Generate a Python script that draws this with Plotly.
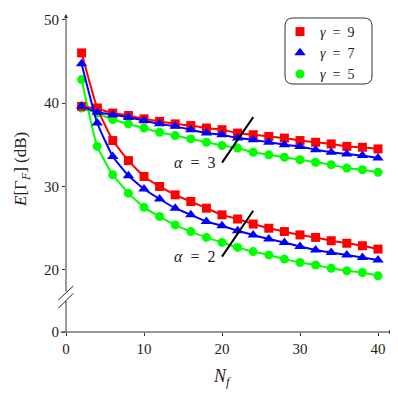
import plotly.graph_objects as go

# number of frames N_f
nf = list(range(2, 41, 2))

# E[Gamma_F] in dB, alpha = 2
g9_a2 = [46.0, 39.4, 35.5, 33.1, 31.2, 30.0, 29.0, 28.2, 27.4, 26.6,
         26.1, 25.5, 25.0, 24.6, 24.2, 23.9, 23.5, 23.2, 22.9, 22.5]
g7_a2 = [44.7, 37.6, 33.6, 31.3, 29.7, 28.5, 27.4, 26.6, 25.8, 25.3,
         24.7, 24.2, 23.7, 23.3, 22.8, 22.4, 22.1, 21.8, 21.5, 21.2]
g5_a2 = [42.8, 34.8, 31.4, 29.2, 27.5, 26.4, 25.4, 24.6, 23.9, 23.3,
         22.7, 22.2, 21.8, 21.3, 20.9, 20.6, 20.2, 19.9, 19.7, 19.3]

# alpha = 3
g9_a3 = [39.6, 39.3, 38.8, 38.5, 38.1, 37.8, 37.5, 37.3, 37.0, 36.8,
         36.4, 36.2, 36.0, 35.8, 35.5, 35.3, 35.1, 34.8, 34.7, 34.5]
g7_a3 = [39.6, 38.9, 38.6, 38.3, 37.9, 37.5, 37.2, 36.8, 36.4, 36.2,
         35.8, 35.6, 35.3, 35.0, 34.8, 34.4, 34.1, 33.9, 33.7, 33.4]
g5_a3 = [39.4, 38.8, 38.0, 37.5, 37.0, 36.5, 36.1, 35.7, 35.3, 34.9,
         34.6, 34.1, 33.8, 33.5, 33.2, 32.9, 32.6, 32.2, 32.0, 31.7]

x_ticks = [0, 10, 20, 30, 40]
y_ticks = [20, 30, 40, 50]
y_zero_pos = 12.57   # axis is broken: the "0" tick sits here
x_range = [0, 41.92]
y_range = [y_zero_pos, 50.66]

# page body has an 8px margin, so the figure is a bit smaller
OFF = 8
W, H = 390, 390
L, R, T, B = 58, 5, 6, 66
PW, PH = W - L - R, H - T - B

def px(x):   # page pixel -> paper x
    return (x - OFF - L) / PW

def py(y):   # page pixel -> paper y
    return (H - B - (y - OFF)) / PH

FONT = "Liberation Serif, DejaVu Serif, serif"
SP = "\u2002"
series = [
    # name, y alpha2, y alpha3, colour, symbol, size
    ("5", g5_a2, g5_a3, "#00ff00", "circle", 9),
    ("9", g9_a2, g9_a3, "#ff0000", "square", 9),
    ("7", g7_a2, g7_a3, "#0000ff", "triangle-up", 10),
]
legend_rank = {"9": 1, "7": 2, "5": 3}

fig = go.Figure()
for name, ya2, ya3, col, sym, sz in series:
    for ys in (ya2, ya3):
        fig.add_trace(go.Scatter(
            x=nf, y=ys, mode="lines+markers",
            line=dict(color=col, width=2, shape="spline", smoothing=0.4),
            marker=dict(color=col, symbol=sym, size=sz),
            showlegend=False, hoverinfo="skip"))
for name, ya2, ya3, col, sym, sz in series:
    fig.add_trace(go.Scatter(
        x=[None], y=[None], mode="markers",
        marker=dict(color=col, symbol=sym, size=sz),
        name=f"<i>γ</i>{SP}={SP}{name}", legendrank=legend_rank[name]))

# slashes marking the alpha families
slash_x = [20, 24]
slash_a3 = [32.85, 38.3]
slash_a2 = [21.6, 27.1]
for sy in (slash_a3, slash_a2):
    fig.add_shape(type="line", xref="x", yref="y",
                  x0=slash_x[0], x1=slash_x[1], y0=sy[0], y1=sy[1],
                  line=dict(color="black", width=2))

for txt, yv in ((f"<i>α</i>{SP}={SP}3", 32.93), (f"<i>α</i>{SP}={SP}2", 21.56)):
    fig.add_annotation(x=19.4, y=yv, text=txt, showarrow=False,
                       xanchor="right", font=dict(family=FONT, size=16, color="#222"))

# axis titles
fig.add_annotation(x=20, y=py(377), yref="paper", text="<i>N<sub>f</sub></i>",
                   xanchor="center", yanchor="middle",
                   showarrow=False, font=dict(family=FONT, size=18, color="#222"))
fig.add_annotation(x=px(22), y=py(170), xref="paper", yref="paper",
                   text="<i>E</i>[Γ<sub><i>F</i></sub>] (dB)", textangle=-90,
                   xanchor="center", yanchor="middle",
                   showarrow=False, font=dict(family=FONT, size=17, color="#222"))

axis_col = "#333333"
# x axis with arrow
fig.add_annotation(xref="paper", yref="paper", x=1, y=0, ax=-334, ay=0,
                   text="", showarrow=True, arrowhead=2, arrowsize=0.8,
                   arrowwidth=1, arrowcolor=axis_col, standoff=0)
# y axis upper part with arrow, lower part below the break
fig.add_annotation(xref="paper", yref="paper", x=0, y=1, ax=0, ay=279,
                   text="", showarrow=True, arrowhead=2, arrowsize=0.8,
                   arrowwidth=1, arrowcolor=axis_col, standoff=0)
fig.add_shape(type="line", xref="paper", yref="paper",
              x0=0, x1=0, y0=0, y1=py(301), line=dict(color=axis_col, width=1))
# break marks
for y_a, y_b in ((300, 286), (308.3, 293.3)):
    fig.add_shape(type="line", xref="paper", yref="paper",
                  x0=px(58.3), x1=px(73.3), y0=py(y_a), y1=py(y_b),
                  line=dict(color="#222", width=1))

# rounded legend frame
x0, x1, y0, y1, r = px(285), px(372), py(84), py(18), 8
rx, ry = r / PW, r / PH
path = (f"M {x0+rx},{y0} L {x1-rx},{y0} Q {x1},{y0} {x1},{y0+ry} "
        f"L {x1},{y1-ry} Q {x1},{y1} {x1-rx},{y1} L {x0+rx},{y1} "
        f"Q {x0},{y1} {x0},{y1-ry} L {x0},{y0+ry} Q {x0},{y0} {x0+rx},{y0} Z")
fig.add_shape(type="path", xref="paper", yref="paper", path=path,
              line=dict(color="#333", width=1))

fig.update_layout(
    width=W, height=H,
    margin=dict(l=L, r=R, t=T, b=B, autoexpand=False),
    plot_bgcolor="white", paper_bgcolor="white",
    font=dict(family=FONT, size=15, color="#222"),
    legend=dict(x=px(280), y=py(16), xanchor="left", yanchor="top",
                bgcolor="rgba(0,0,0,0)", borderwidth=0,
                font=dict(family=FONT, size=14), tracegroupgap=0),
    xaxis=dict(range=x_range, tickvals=x_ticks, showgrid=False, zeroline=False,
               showline=False, ticks="outside", ticklen=3, tickcolor=axis_col,
               automargin=False),
    yaxis=dict(range=y_range, tickvals=[y_zero_pos] + y_ticks,
               ticktext=["0"] + [str(v) for v in y_ticks],
               showgrid=False, zeroline=False, showline=False,
               ticks="outside", ticklen=3, tickcolor=axis_col,
               automargin=False),
)

fig.write_html("out.html")
